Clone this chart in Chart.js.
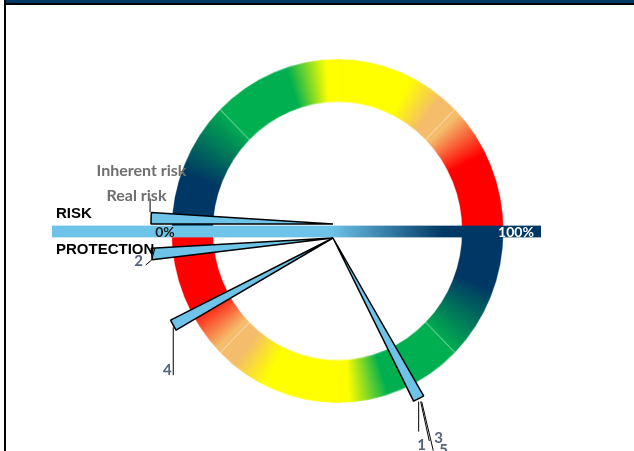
<!DOCTYPE html>
<html>
<head>
<meta charset="utf-8">
<script src="https://cdn.jsdelivr.net/npm/chart.js@4.4.0/dist/chart.umd.min.js"></script>
<style>
  html, body { margin: 0; padding: 0; background: #fff; }
  #stage { position: relative; width: 634px; height: 451px; overflow: hidden; }
  #stage canvas { position: absolute; left: 0; top: 0; }
  /* the dial ring is a touch taller than wide */
  #ringChart { transform: scaleY(1.036); transform-origin: 337.5px 231px; }
  .edge { position: absolute; }
</style>
</head>
<body>
<div id="stage">
  <div class="edge" style="left:6px;top:0;right:0;height:3px;background:#003865"></div>
  <div class="edge" style="left:4px;top:3px;right:0;height:2px;background:#000"></div>
  <div class="edge" style="left:4px;top:0;bottom:0;width:2px;background:#000"></div>
  <canvas id="ringChart" width="634" height="451"></canvas>
  <canvas id="scaleChart" width="634" height="451"></canvas>
  <canvas id="riskChart" width="634" height="451"></canvas>
  <canvas id="protectionChart" width="634" height="451"></canvas>
</div>
<script>
// dial: eight equal bands
const ringBands = [1, 1, 1, 1, 1, 1, 1, 1];

// scale bar across the dial
const scaleLabels = ['0%', '100%'];
const scaleValues = [0, 100];

// risk needles (upper half, % from the left going over the top)
const riskLabels = ['Inherent risk', 'Real risk'];
const riskValues = [1.0, 1.0];

// protection needles (lower half, % from the left going under)
const protectionLabels = ['1', '2', '3', '4', '5'];
const protectionValues = [65.6, 2.8, 65.6, 15.9, 65.6];

const needleWidth = 2; // in % of a half turn
const navy = '#003865';
const skyBlue = '#6EC3E8';

// colour stops for one half of the dial, clockwise from navy to red
const ringStops = [
    [0, navy], [20, navy],
    [46, '#00B050'], [72, '#00B050'],
    [86, '#FFFF00'], [116, '#FFFF00'],
    [129, '#F5BC6C'], [137, '#F5BC6C'],
    [153, '#FF0000'], [180, '#FF0000']
];

let ringGradient = null;
function ringColor(context) {
    const chart = context.chart;
    const area = chart.chartArea;
    if (!area) return null;
    if (!ringGradient) {
        const cx = (area.left + area.right) / 2;
        const cy = (area.top + area.bottom) / 2;
        ringGradient = chart.ctx.createConicGradient(0, cx, cy);
        [0, 0.5].forEach(function (half) {
            ringStops.forEach(function (s) {
                ringGradient.addColorStop(half + s[0] / 360, s[1]);
            });
        });
    }
    return ringGradient;
}

new Chart(document.getElementById('ringChart'), {
    type: 'doughnut',
    data: {
        labels: ringBands.map((v, i) => 'band ' + (i + 1)),
        datasets: [{
            data: ringBands,
            backgroundColor: ringColor,
            borderColor: 'rgba(255,255,255,0.3)',
            borderWidth: 1
        }]
    },
    options: {
        responsive: false,
        animation: false,
        radius: 166,
        cutout: '75%',
        layout: { padding: { left: 41, right: 0, top: 11, bottom: 0 } },
        plugins: { legend: { display: false }, tooltip: { enabled: false } }
    }
});

// bar that runs across the middle of the dial
let barGradient = null;
function barColor(context) {
    const area = context.chart.chartArea;
    if (!area) return null;
    if (!barGradient) {
        barGradient = context.chart.ctx.createLinearGradient(area.left, 0, area.right, 0);
        barGradient.addColorStop(0, skyBlue);
        barGradient.addColorStop(0.57, skyBlue);
        barGradient.addColorStop(0.8, navy);
        barGradient.addColorStop(1, navy);
    }
    return barGradient;
}

const scaleText = {
    id: 'scaleText',
    afterDatasetsDraw(chart) {
        const ctx = chart.ctx;
        const x = chart.scales.x;
        const y = (chart.chartArea.top + chart.chartArea.bottom) / 2;
        ctx.save();
        ctx.font = 'bold 14px Lato';
        ctx.textBaseline = 'middle';
        ctx.textAlign = 'center';
        // the end labels sit inside the bar
        ctx.fillStyle = '#1a1a1a';
        ctx.fillText(scaleLabels[0], x.getPixelForValue(scaleValues[0]) + 113, y + 1);
        ctx.fillStyle = '#ffffff';
        ctx.fillText(scaleLabels[1], x.getPixelForValue(scaleValues[1]) - 25, y + 1);
        ctx.restore();
    }
};

new Chart(document.getElementById('scaleChart'), {
    type: 'bar',
    data: {
        labels: ['scale'],
        datasets: [{
            data: [scaleValues[1]],
            backgroundColor: barColor,
            barPercentage: 1,
            categoryPercentage: 1
        }]
    },
    options: {
        indexAxis: 'y',
        responsive: false,
        animation: false,
        layout: { padding: { left: 52, right: 93, top: 225.5, bottom: 213.5 } },
        scales: {
            x: { display: false, min: scaleValues[0], max: scaleValues[1] },
            y: { display: false }
        },
        plugins: { legend: { display: false }, tooltip: { enabled: false } }
    },
    plugins: [scaleText]
});

// turn needle positions (clockwise from the left, full turn = 200) into pie slices
function buildNeedles(positions) {
    const stops = [...new Set(positions)].sort((a, b) => a - b);
    const data = [];
    const isNeedle = [];
    let at = 0;
    stops.forEach(function (p) {
        const start = Math.max(p - needleWidth / 2, at);
        data.push(start - at); isNeedle.push(false);
        data.push(needleWidth); isNeedle.push(true);
        at = start + needleWidth;
    });
    data.push(200 - at); isNeedle.push(false);
    const sliceOf = positions.map(p => 2 * stops.indexOf(p) + 1);
    return { data: data, isNeedle: isNeedle, sliceOf: sliceOf };
}

const needleLabels = {
    id: 'needleLabels',
    afterDatasetsDraw(chart, args, opts) {
        const ctx = chart.ctx;
        const arcs = chart.getDatasetMeta(0).data;
        ctx.save();
        opts.items.forEach(function (item) {
            const arc = arcs[item.slice];
            const mid = (arc.startAngle + arc.endAngle) / 2;
            const tx = arc.x + Math.cos(mid) * arc.outerRadius;
            const ty = arc.y + Math.sin(mid) * arc.outerRadius;
            if (item.line) {
                ctx.beginPath();
                item.line.forEach(function (pt, i) {
                    if (i === 0) ctx.moveTo(tx + pt[0], ty + pt[1]);
                    else ctx.lineTo(tx + pt[0], ty + pt[1]);
                });
                ctx.strokeStyle = '#000';
                ctx.lineWidth = 1;
                ctx.stroke();
            }
            ctx.font = opts.font;
            ctx.fillStyle = opts.color;
            ctx.textAlign = 'center';
            ctx.textBaseline = 'alphabetic';
            ctx.fillText(item.text, tx + item.dx, ty + item.dy);
        });
        if (opts.titles) {
            opts.titles.forEach(function (t) {
                ctx.font = 'bold 15px "Liberation Sans", Arial';
                ctx.fillStyle = '#000';
                ctx.textAlign = 'left';
                ctx.fillText(t.text, t.x, t.y);
            });
        }
        ctx.restore();
    }
};

function needleChart(id, labels, positions, rotation, padding, layoutFor, font, color, titles) {
    const n = buildNeedles(positions);
    const items = labels.map(function (text, i) {
        const l = layoutFor[text];
        return { text: text, slice: n.sliceOf[i], dx: l.dx, dy: l.dy, line: l.line };
    });
    return new Chart(document.getElementById(id), {
        type: 'pie',
        data: {
            labels: n.data.map((v, i) => 'slice ' + i),
            datasets: [{
                data: n.data,
                backgroundColor: n.isNeedle.map(f => f ? skyBlue : 'rgba(0,0,0,0)'),
                borderColor: n.isNeedle.map(f => f ? '#000' : 'rgba(0,0,0,0)'),
                borderWidth: n.isNeedle.map(f => f ? 1.5 : 0)
            }]
        },
        options: {
            responsive: false,
            animation: false,
            rotation: rotation,
            radius: 182,
            layout: { padding: padding },
            plugins: {
                legend: { display: false },
                tooltip: { enabled: false },
                needleLabels: { items: items, font: font, color: color, titles: titles }
            }
        },
        plugins: [needleLabels]
    });
}

// label placement relative to each needle's outer end
const riskLayout = {
    'Inherent risk': { dx: -9.6, dy: -42.3 },
    'Real risk': { dx: -14.6, dy: -17.3, line: [[-1, -6], [-1, -20]] }
};
const protectionLayout = {
    '1': { dx: 3, dy: 51, line: [[0, 3], [0, 33]] },
    '2': { dx: -13, dy: 12, line: [[3, -5], [0, 6], [-6, 11]] },
    '3': { dx: 20, dy: 44, line: [[2, 3], [10.6, 42.4]] },
    '4': { dx: -6, dy: 50, line: [[0, 2], [0, 50]] },
    '5': { dx: 25, dy: 56, line: [[3, 3], [14.6, 52]] }
};

needleChart('riskChart', riskLabels, riskValues, -90,
    { left: 32, right: 0, top: 0, bottom: 3 },
    riskLayout, 'bold 16px Lato', '#6F6F6F', null);

needleChart('protectionChart', protectionLabels, protectionValues.map(v => 200 - v), -90,
    { left: 32, right: 0, top: 25, bottom: 0 },
    protectionLayout, 'bold 15px Lato', '#53627F',
    [{ text: 'RISK', x: 56, y: 218 }, { text: 'PROTECTION', x: 56, y: 253.5 }]);
</script>
</body>
</html>
